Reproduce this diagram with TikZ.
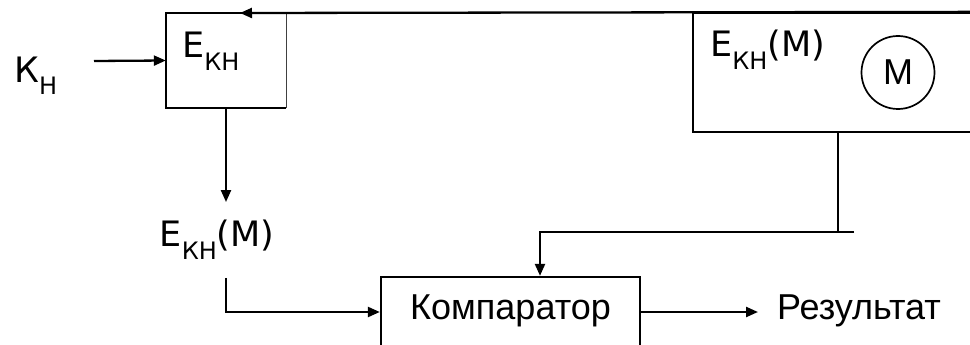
\documentclass[tikz,border=0pt]{standalone}
\usepackage{fontspec}
\setmainfont{DejaVu Sans}
\newfontfamily\arialfont{Liberation Sans}
\usetikzlibrary{arrows.meta}
\newcommand\sbx[1]{\raisebox{-13pt}{\fontsize{24}{24}\selectfont #1}}
\tikzset{
  ln/.style={line width=2.3pt},
  arr/.style={ln,-{Triangle[length=12pt,width=10pt]}},
  boxx/.style={draw,line width=2.3pt,inner sep=0pt},
  lbl/.style={inner sep=0pt,font=\fontsize{35}{40}\selectfont},
  rus/.style={font=\arialfont\fontsize{36}{40}\selectfont,text height=26pt,text depth=12pt}
}
\begin{document}
\begin{tikzpicture}[x=1pt,y=-1pt]
\useasboundingbox (0,0) rectangle (970,345);
\clip (0,0) rectangle (970,345);
% boxes
\node[inner sep=0pt,minimum width=120pt,minimum height=95pt] (lb) at (226,60.5) {};
\draw[ln] (lb.north east) -- (lb.north west) -- (lb.south west) -- (lb.south east);
\draw[line width=1.4pt,black!75] (lb.south east) -- (lb.north east);
\node[lbl,anchor=base west] (lbt) at (182,58) {Е\sbx{КН}};
\node[boxx,minimum width=297pt,minimum height=119pt] (rb) at (841.5,72.5) {};
\node[lbl,anchor=base west] (rbt) at (710,57) {Е\sbx{КН}(M)};
\node[draw,circle,line width=1.7pt,inner sep=0pt,minimum size=73pt,font=\arialfont\fontsize{36}{40}\selectfont] (mc) at (898,72.5) {M};
\node[boxx,rus,minimum width=259pt,minimum height=70pt] (cmp) at (510.5,312) {Компаратор};
\node[rus,anchor=west,inner xsep=19pt,inner ysep=0pt] (res) at (758,312) {Результат};
\node[lbl,anchor=base west] (kh) at (14,82) {К\sbx{Н}};
\node[lbl,inner ysep=18pt] (ekm) at (217,240) {Е\sbx{КН}(M)};
% connectors
\coordinate (kstart) at (94,61);
\draw[arr] (kstart) -- (lb.west);
\coordinate (tip) at (240,13);
\draw[arr] (rb.north east) -- (tip);
\draw[arr] (lb.south) -- (lb.south |- ekm.north);
\draw[arr] (lb.south |- ekm.south) -- (lb.south |- cmp.west) -- (cmp.west);
\draw[arr] (cmp.east) -- (res.west);
\coordinate (jc) at (838,232);
\coordinate (jr) at (854,232);
\coordinate (jl) at (540,232);
\draw[ln] (rb.south -| jc) -- (jc);
\draw[arr] (jr) -- (jl) -- (jl |- cmp.north);
\end{tikzpicture}
\end{document}
